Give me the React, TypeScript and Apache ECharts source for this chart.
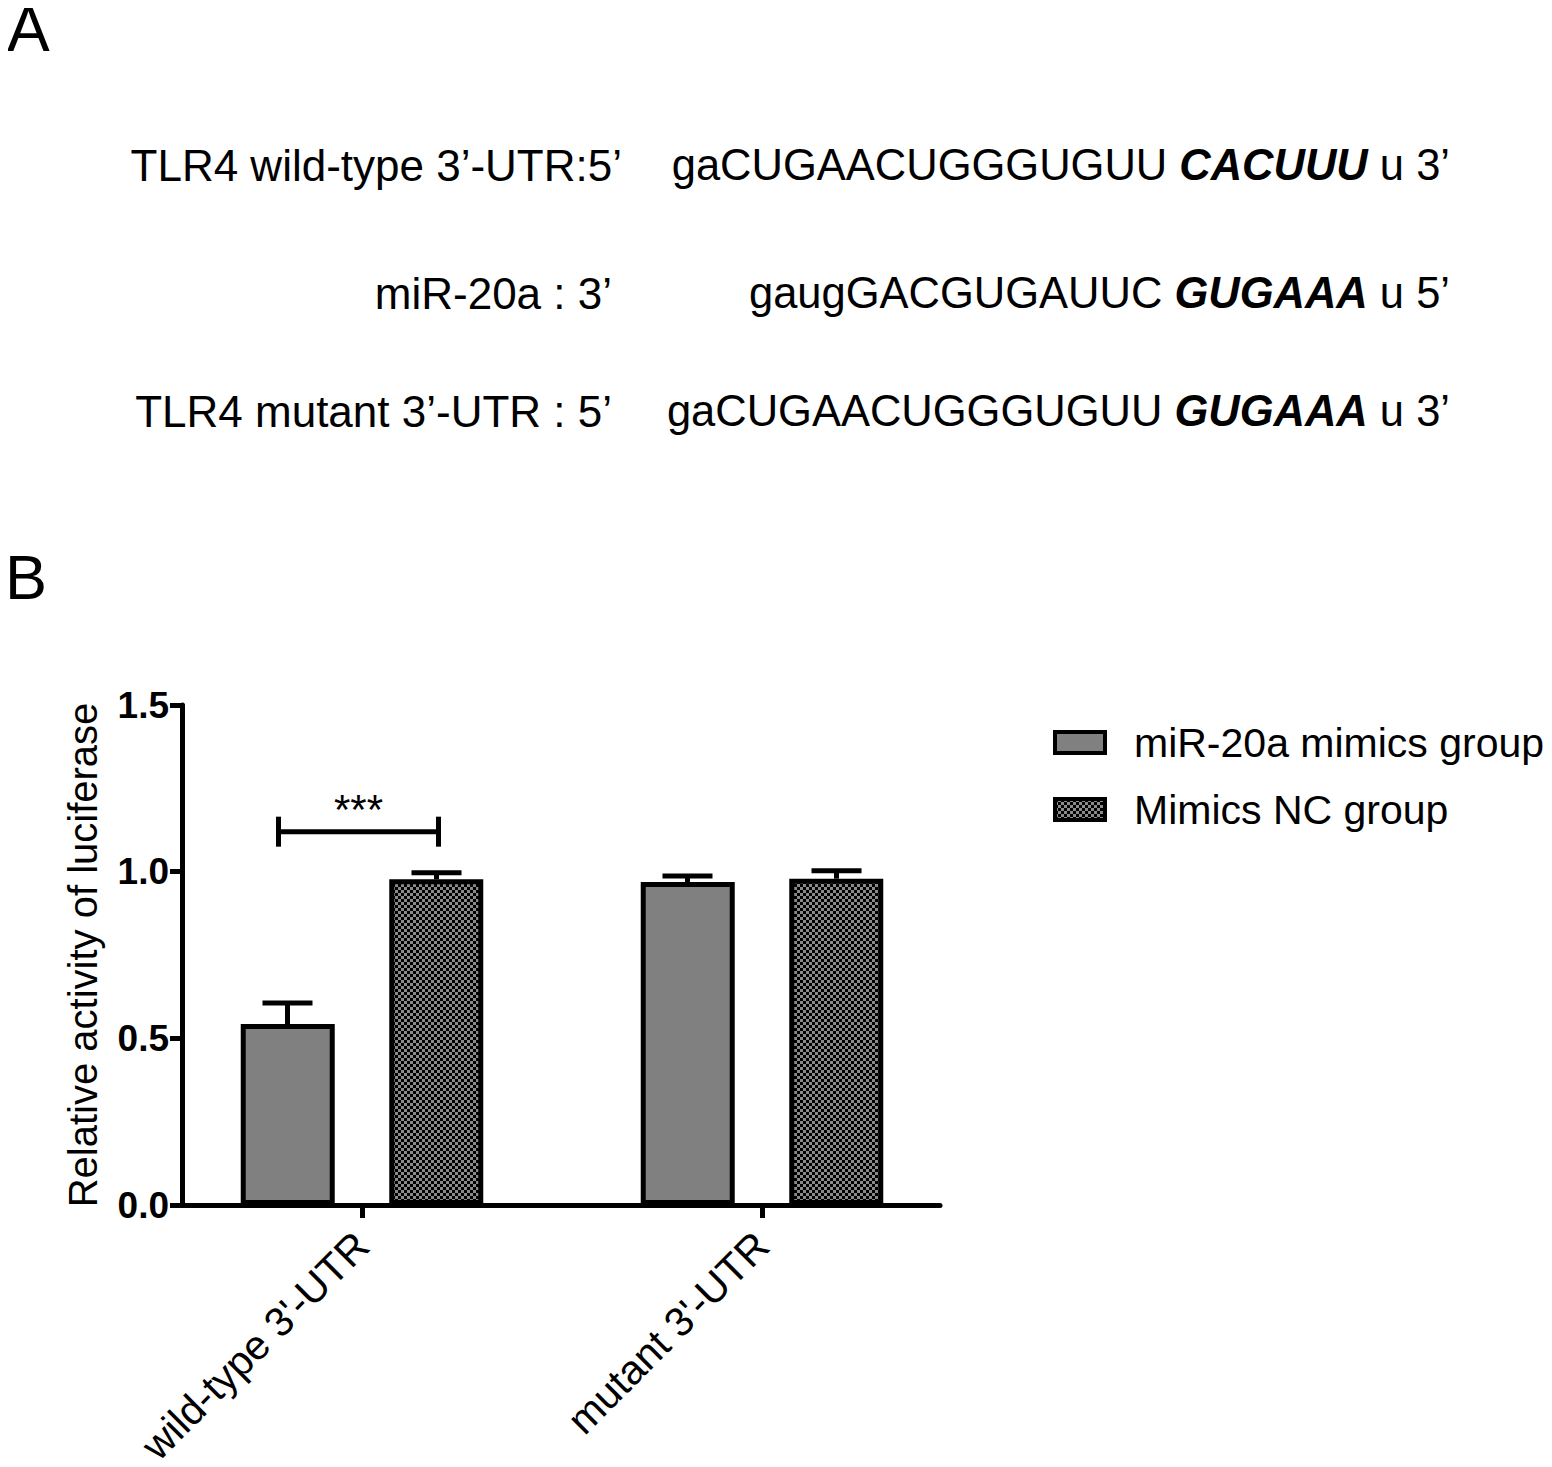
import React, { useEffect, useRef } from "react";
import * as echarts from "echarts";

// ---------- Data ----------
const categories = ["wild-type 3'-UTR", "mutant 3'-UTR"];
const seriesNames = ["miR-20a mimics group", "Mimics NC group"];
const mimicsMeans = [0.543, 0.969];
const mimicsErrors = [0.063, 0.018];
const ncMeans = [0.977, 0.979];
const ncErrors = [0.02, 0.024];
const yMin = 0;
const yMax = 1.5;
const yInterval = 0.5;
const yTitle = "Relative activity of luciferase";
const sigLevel = 1.12;
const sigText = "***";

// Panel A texts
const seqLabels = ["TLR4 wild-type 3’-UTR:5’", "miR-20a : 3’", "TLR4 mutant 3’-UTR : 5’"];
const seqPlain = ["gaCUGAACUGGGUGUU ", "gaugGACGUGAUUC ", "gaCUGAACUGGGUGUU "];
const seqBold = ["CACUUU", "GUGAAA", "GUGAAA"];
const seqTail = [" u 3’", " u 5’", " u 3’"];

const FONT = "'Liberation Sans', Arial, Helvetica, sans-serif";

function makePattern(): HTMLCanvasElement {
  const c = document.createElement("canvas");
  c.width = 6;
  c.height = 6;
  const ctx = c.getContext("2d")!;
  ctx.fillStyle = "#8a8a8a";
  ctx.fillRect(0, 0, 6, 6);
  ctx.fillStyle = "#000000";
  ctx.fillRect(0, 0, 3, 3);
  ctx.fillRect(3, 3, 3, 3);
  return c;
}

export default function App() {
  const ref = useRef<HTMLDivElement>(null);
  useEffect(() => {
    if (!ref.current) return;
    const chart = echarts.init(ref.current, undefined, { renderer: "svg" });
    const pattern = makePattern();
    const barOffset = 74.5;

    const errData: number[][] = [];
    mimicsMeans.forEach((m, i) => errData.push([i, m, mimicsErrors[i], 0]));
    ncMeans.forEach((m, i) => errData.push([i, m, ncErrors[i], 1]));

    const seqRowY = [157, 285, 403];
    const labelRight = [614, 604, 604];

    const graphics: any[] = [
      {
        type: "text",
        x: -1,
        y: 21,
        style: { text: "A", fontSize: 64, fontFamily: FONT, fill: "#000", verticalAlign: "middle" },
      },
      {
        type: "text",
        x: -3,
        y: 569,
        style: { text: "B", fontSize: 63, fontFamily: FONT, fill: "#000", verticalAlign: "middle" },
      },
    ];
    seqLabels.forEach((lab, i) => {
      graphics.push({
        type: "text",
        x: labelRight[i],
        y: seqRowY[i],
        style: {
          text: lab,
          fontSize: 44,
          fontFamily: FONT,
          fill: "#000",
          align: "right",
          verticalAlign: "middle",
        },
      });
      graphics.push({
        type: "text",
        x: 1442,
        y: seqRowY[i],
        style: {
          text: seqPlain[i] + "{bi|" + seqBold[i] + "}" + seqTail[i],
          fontSize: 43.5,
          fontFamily: FONT,
          fill: "#000",
          align: "right",
          verticalAlign: "middle",
          rich: {
            bi: {
              fontSize: 43.5,
              fontFamily: FONT,
              fontWeight: "bold",
              fontStyle: "italic",
              fill: "#000",
              color: "#000",
            },
          },
        },
      });
    });

    const option: any = {
      animation: false,
      backgroundColor: "#fff",
      textStyle: { fontFamily: FONT, color: "#000" },
      graphic: graphics,
      grid: [
        { left: 174, width: 758, top: 697, height: 500, outerBoundsMode: "none", containLabel: false },
        { left: 154, width: 800, top: 697, height: 500, outerBoundsMode: "none", containLabel: false },
      ],
      legend: {
        orient: "vertical",
        left: 1040,
        top: 709,
        itemWidth: 50,
        itemHeight: 21,
        itemGap: 26,
        icon: "rect",
        data: seriesNames,
        itemStyle: { borderWidth: 4, borderColor: "#000" },
        textStyle: { fontSize: 41, color: "#000", fontFamily: FONT, padding: [0, 0, 0, 24] },
      },
      xAxis: [
        {
          type: "value",
          gridIndex: 0,
          min: 0,
          max: 1,
          axisLine: { show: true, onZero: false, lineStyle: { color: "#000", width: 5 } },
          axisTick: { show: false },
          axisLabel: { show: false },
          splitLine: { show: false },
        },
        {
          type: "category",
          gridIndex: 1,
          data: categories,
          axisLine: { show: false },
          axisTick: {
            show: true,
            alignWithLabel: true,
            length: 13,
            lineStyle: { color: "#000", width: 5 },
          },
          axisLabel: {
            rotate: 45,
            interval: 0,
            fontSize: 41,
            color: "#000",
            fontFamily: FONT,
            margin: 34,
          },
        },
      ],
      yAxis: [
        {
          type: "value",
          gridIndex: 0,
          min: yMin,
          max: yMax,
          interval: yInterval,
          name: yTitle,
          nameLocation: "middle",
          nameRotate: 90,
          nameGap: 79,
          nameTextStyle: { fontSize: 40, color: "#000", fontFamily: FONT },
          axisLine: { show: true, lineStyle: { color: "#000", width: 5 } },
          axisTick: { show: true, length: 12, lineStyle: { color: "#000", width: 5 } },
          axisLabel: {
            fontSize: 37,
            fontWeight: "bold",
            color: "#000",
            fontFamily: FONT,
            margin: 13,
            formatter: (v: number) => v.toFixed(1),
          },
          splitLine: { show: false },
        },
        {
          type: "value",
          gridIndex: 1,
          min: yMin,
          max: yMax,
          interval: yInterval,
          show: false,
          splitLine: { show: false },
        },
      ],
      series: [
        {
          name: seriesNames[0],
          type: "bar",
          xAxisIndex: 1,
          yAxisIndex: 1,
          data: mimicsMeans,
          barWidth: 94,
          barGap: "58%",
          itemStyle: { color: "#808080", borderColor: "#000", borderWidth: 5 },
        },
        {
          name: seriesNames[1],
          type: "bar",
          xAxisIndex: 1,
          yAxisIndex: 1,
          data: ncMeans,
          barWidth: 94,
          barGap: "58%",
          itemStyle: {
            color: { image: pattern, repeat: "repeat" },
            borderColor: "#000",
            borderWidth: 5,
          },
        },
        {
          type: "custom",
          xAxisIndex: 1,
          yAxisIndex: 1,
          data: errData,
          z: 5,
          renderItem: (params: any, api: any) => {
            const cat = api.value(0);
            const mean = api.value(1);
            const err = api.value(2);
            const s = api.value(3);
            const base = api.coord([cat, mean]);
            const top = api.coord([cat, mean + err]);
            const x = base[0] + (s === 0 ? -barOffset : barOffset);
            return {
              type: "group",
              children: [
                {
                  type: "line",
                  shape: { x1: x, y1: base[1], x2: x, y2: top[1] },
                  style: { stroke: "#000", lineWidth: 5 },
                },
                {
                  type: "line",
                  shape: { x1: x - 25, y1: top[1], x2: x + 25, y2: top[1] },
                  style: { stroke: "#000", lineWidth: 5 },
                },
              ],
            };
          },
        },
        {
          type: "custom",
          xAxisIndex: 1,
          yAxisIndex: 1,
          data: [[0, sigLevel]],
          z: 5,
          renderItem: (params: any, api: any) => {
            const p = api.coord([api.value(0), api.value(1)]);
            const x1 = p[0] - barOffset - 9;
            const x2 = p[0] + barOffset + 2;
            const y = p[1];
            return {
              type: "group",
              children: [
                {
                  type: "line",
                  shape: { x1, y1: y, x2, y2: y },
                  style: { stroke: "#000", lineWidth: 5 },
                },
                {
                  type: "line",
                  shape: { x1, y1: y - 15, x2: x1, y2: y + 15 },
                  style: { stroke: "#000", lineWidth: 5 },
                },
                {
                  type: "line",
                  shape: { x1: x2, y1: y - 15, x2, y2: y + 15 },
                  style: { stroke: "#000", lineWidth: 5 },
                },
                {
                  type: "text",
                  style: {
                    text: sigText,
                    x: (x1 + x2) / 2,
                    y: y - 22,
                    fontSize: 42,
                    fontFamily: FONT,
                    fill: "#000",
                    align: "center",
                    verticalAlign: "middle",
                  },
                },
              ],
            };
          },
        },
      ],
    };
    chart.setOption(option);
    return () => chart.dispose();
  }, []);
  return <div ref={ref} style={{ width: "1536px", height: "1451px" }} />;
}
